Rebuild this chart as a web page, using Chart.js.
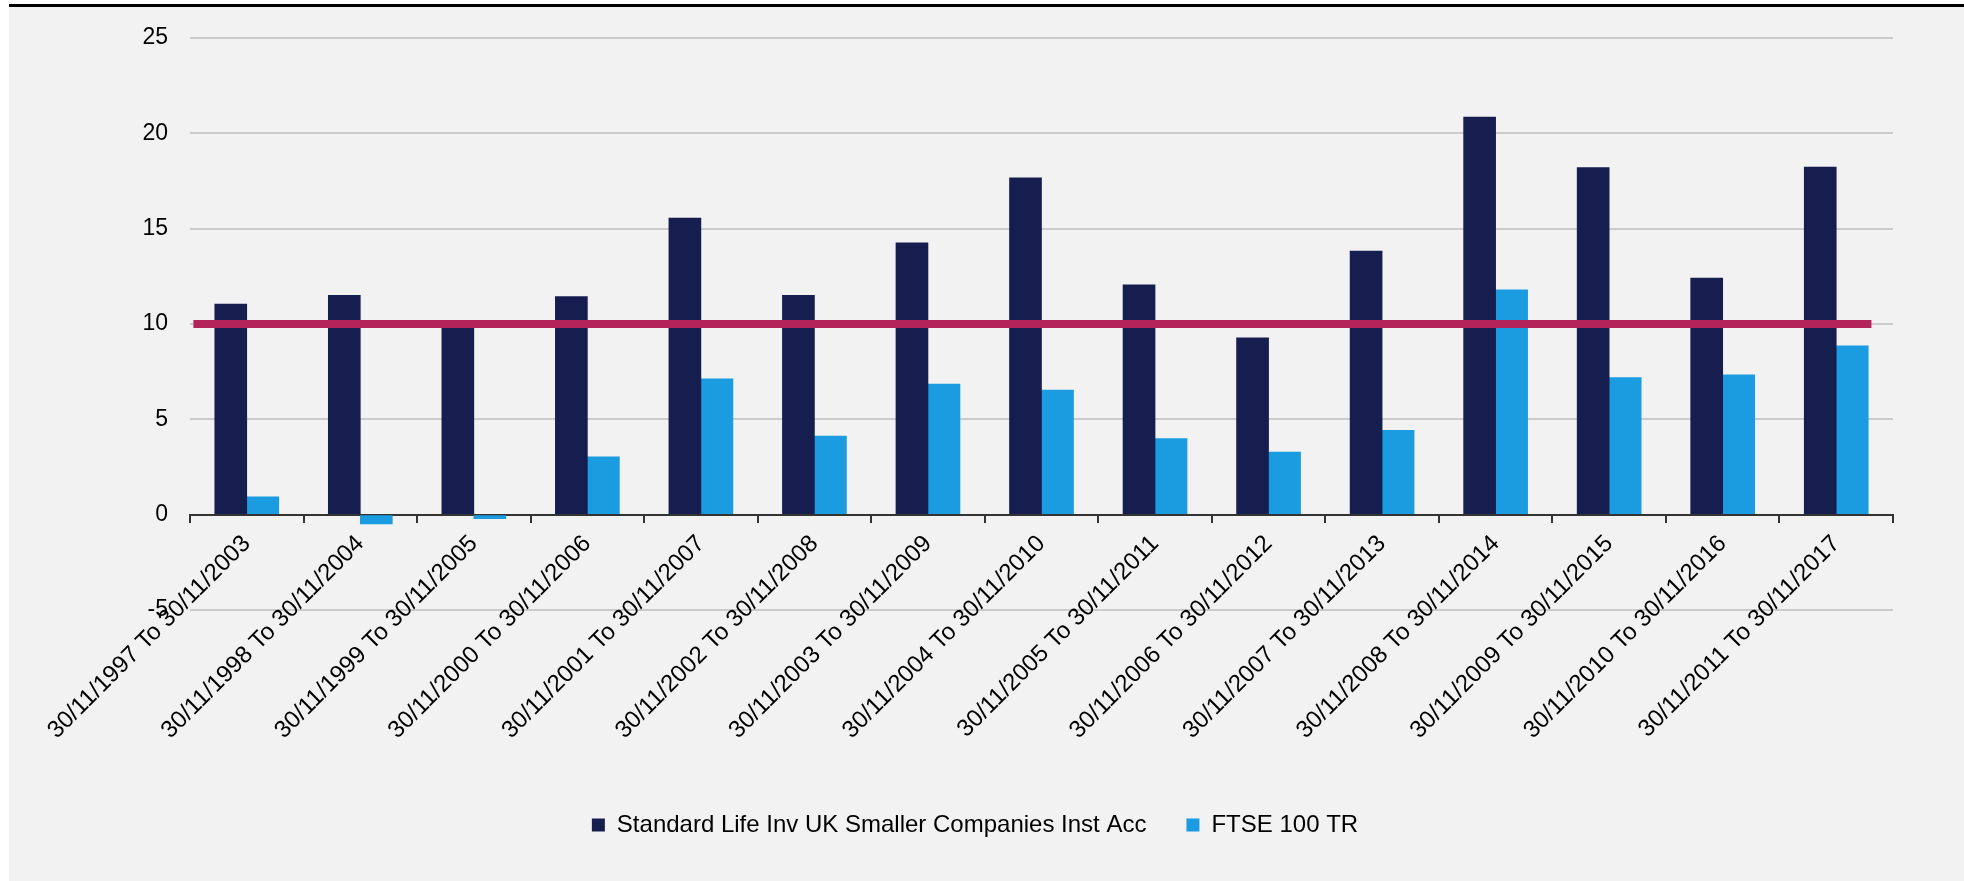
<!DOCTYPE html>
<html>
<head>
<meta charset="utf-8">
<script src="https://cdn.jsdelivr.net/npm/chart.js@4.4.0/dist/chart.umd.min.js"></script>
<style>
    html, body { margin: 0; padding: 0; background: #fff; overflow: hidden; }
    #panel {
        position: absolute; left: 9px; top: 4px;
        width: 1955px; height: 877px;
        box-sizing: border-box;
        background: #f2f2f2;
        border-top: 3px solid #000;
    }
    #chartCanvas { display: block; }
</style>
</head>
<body>
<div id="panel"><canvas id="chartCanvas" width="1955" height="874"></canvas></div>
<script>
const periods = [
    "30/11/1997 To 30/11/2003", "30/11/1998 To 30/11/2004", "30/11/1999 To 30/11/2005",
    "30/11/2000 To 30/11/2006", "30/11/2001 To 30/11/2007", "30/11/2002 To 30/11/2008",
    "30/11/2003 To 30/11/2009", "30/11/2004 To 30/11/2010", "30/11/2005 To 30/11/2011",
    "30/11/2006 To 30/11/2012", "30/11/2007 To 30/11/2013", "30/11/2008 To 30/11/2014",
    "30/11/2009 To 30/11/2015", "30/11/2010 To 30/11/2016", "30/11/2011 To 30/11/2017"
];
const fundReturns = [11.04, 11.51, 10.1, 11.44, 15.56, 11.51, 14.26, 17.67, 12.06, 9.28, 13.83, 20.85, 18.21, 12.41, 18.23];
const indexReturns = [0.94, -0.49, -0.21, 3.03, 7.13, 4.12, 6.85, 6.53, 3.99, 3.28, 4.42, 11.79, 7.19, 7.34, 8.85];
const seriesNames = ["Standard Life Inv UK Smaller Companies Inst Acc", "FTSE 100 TR"];

// 10% hurdle line, start/end given in category units
const hurdleLevel = [10, 10];
const hurdleSpan = [-0.47, 14.31];

const yTicks = { min: -5, max: 25, step: 5 };

const FONT = "'Liberation Sans', Arial, sans-serif";
const NAVY = "#161e50";
const BLUE = "#1b9ce0";
const CRIMSON = "#b3245a";

const ctx = document.getElementById('chartCanvas').getContext('2d');

new Chart(ctx, {
    type: "bar",
    data: {
        labels: periods,
        datasets: [
            {
                type: "line",
                label: "hurdle",
                data: hurdleSpan.map((x, i) => ({ x: x, y: hurdleLevel[i] })),
                xAxisID: "x2",
                yAxisID: "y",
                borderColor: CRIMSON,
                borderWidth: 8,
                borderCapStyle: "butt",
                pointRadius: 0,
                fill: false,
                order: 0
            },
            {
                label: seriesNames[0],
                data: fundReturns,
                xAxisID: "x",
                backgroundColor: NAVY,
                barThickness: 32,
                order: 1
            },
            {
                label: seriesNames[1],
                data: indexReturns,
                xAxisID: "x",
                backgroundColor: BLUE,
                barThickness: 32,
                order: 1
            }
        ]
    },
    options: {
        responsive: false,
        animation: false,
        layout: { padding: { left: 48, right: 71, top: 31, bottom: 34 } },
        plugins: {
            tooltip: { enabled: false },
            legend: {
                position: "bottom",
                labels: {
                    filter: item => item.datasetIndex !== 0,
                    boxWidth: 13,
                    boxHeight: 13,
                    padding: 40,
                    color: "#000",
                    font: { family: FONT, size: 24 }
                }
            }
        },
        scales: {
            x: {
                type: "category",
                position: { y: 0 },
                offset: true,
                grid: {
                    offset: true,
                    drawOnChartArea: false,
                    drawTicks: true,
                    tickLength: 7,
                    color: "#333",
                    lineWidth: 2
                },
                border: { display: true, color: "#333", width: 2 },
                ticks: {
                    autoSkip: false,
                    minRotation: 45,
                    maxRotation: 45,
                    padding: 8,
                    color: "#000",
                    font: { family: FONT, size: 24 }
                }
            },
            x2: {
                type: "linear",
                position: "bottom",
                offset: false,
                min: -0.5,
                max: 14.5,
                grid: { display: false, offset: false },
                border: { display: false },
                ticks: { display: false },
                afterFit: s => { s.height = 163; }
            },
            y: {
                min: yTicks.min,
                max: yTicks.max,
                ticks: {
                    stepSize: yTicks.step,
                    padding: 22,
                    color: "#000",
                    font: { family: FONT, size: 23 }
                },
                grid: { color: "#cbcbcb", lineWidth: 2, drawTicks: false },
                border: { display: false },
                afterFit: s => {
                    s.width = 133;
                    // tick padding should not push the plot area down
                    s.paddingTop = 0;
                    s.paddingBottom = 0;
                }
            }
        }
    }
});
</script>
</body>
</html>
